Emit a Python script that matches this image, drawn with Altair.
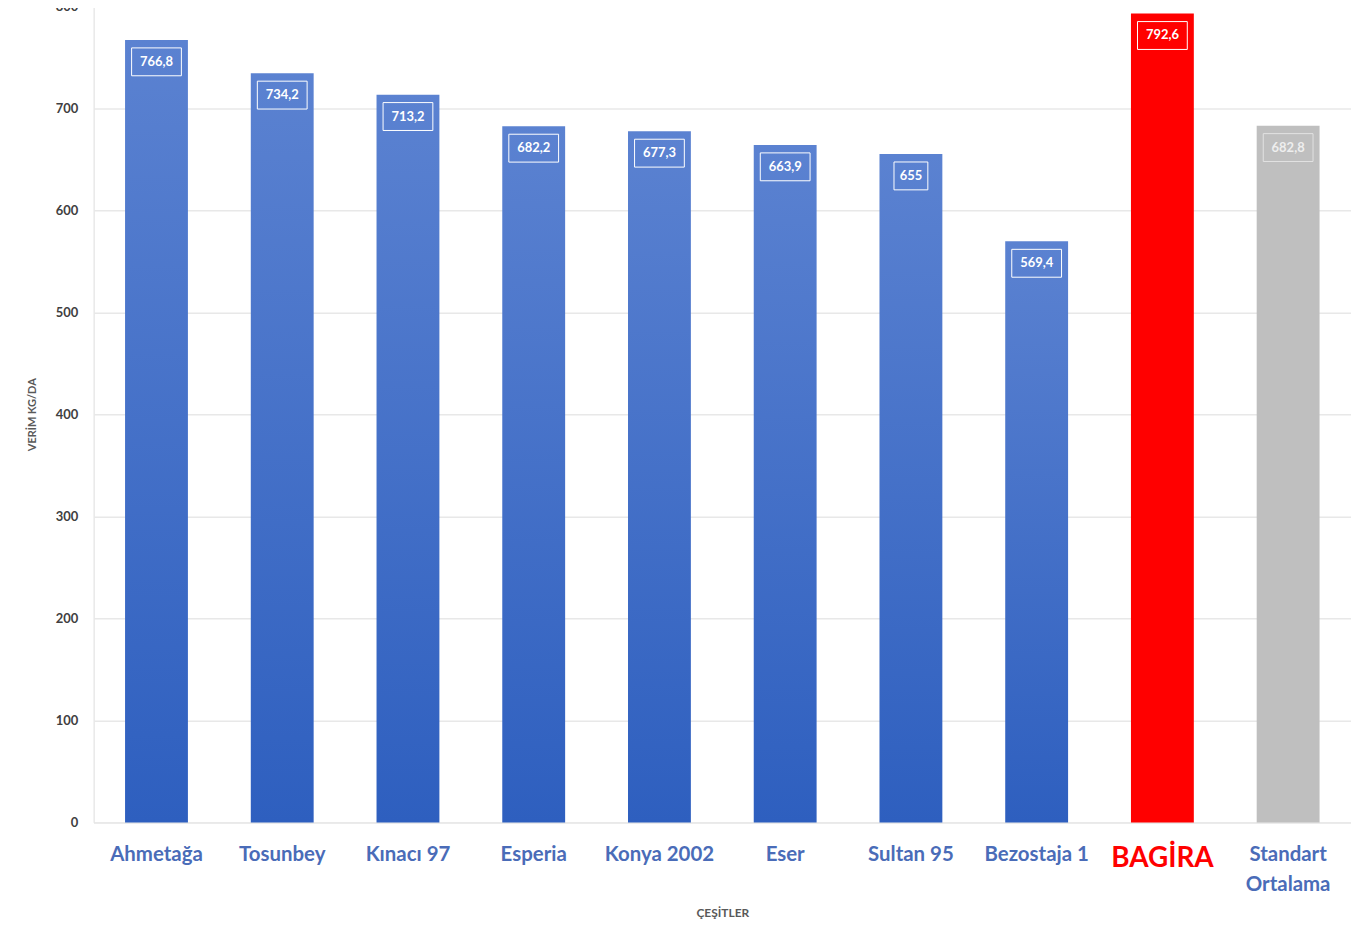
import altair as alt
import pandas as pd

categories = ["Ahmetağa", "Tosunbey", "Kınacı 97", "Esperia", "Konya 2002",
              "Eser", "Sultan 95", "Bezostaja 1", "BAGİRA", "Standart Ortalama"]
values = [766.8, 734.2, 713.2, 682.2, 677.3, 663.9, 655, 569.4, 792.6, 682.8]
value_labels = ["766,8", "734,2", "713,2", "682,2", "677,3", "663,9", "655",
                "569,4", "792,6", "682,8"]
groups = ["cesit"] * 8 + ["bagira", "standart"]

df = pd.DataFrame({"cat": categories, "val": values, "lab": value_labels, "grp": groups})

xenc = alt.X(
    "cat:N",
    sort=None,
    scale=alt.Scale(domain=categories, paddingInner=0.5, paddingOuter=0.25, round=False),
    axis=alt.Axis(
        title="ÇEŞİTLER",
        titleFont="Lato", titleFontSize=12, titleFontWeight="bold", titleColor="#595959",
        titleY=91, titleBaseline="middle",
        labelAngle=0, labelFont="Lato", labelFontWeight="bold",
        labelFontSize=alt.ExprRef("datum.value == 'BAGİRA' ? 28 : 20.5"),
        labelColor=alt.ExprRef("datum.value == 'BAGİRA' ? '#ff0000' : '#4a6cb8'"),
        labelExpr="datum.value == 'Standart Ortalama' ? ['Standart', 'Ortalama'] : datum.value",
        labelLineHeight=30, labelBaseline="top", labelPadding=22,
        ticks=False, domain=False, grid=False,
    ),
)
yenc = alt.Y(
    "val:Q",
    scale=alt.Scale(domain=[0, 800]),
    axis=alt.Axis(
        title="VERİM KG/DA",
        titleFont="Lato", titleFontSize=11, titleFontWeight="bold", titleColor="#595959",
        titleX=-61, titleY=410, titleAngle=-90, titleAlign="center", titleBaseline="middle",
        values=[0, 100, 200, 300, 400, 500, 600, 700, 800],
        labelFont="Lato", labelFontSize=13, labelFontWeight="bold", labelColor="#404040",
        labelPadding=16, ticks=False, domain=False,
        grid=True, gridColor="#e8e8e8", gridWidth=1.5,
    ),
)

base = alt.Chart(df).encode(x=xenc, y=yenc)

blue_grad = alt.Gradient(
    gradient="linear",
    stops=[alt.GradientStop(color="#5b82d1", offset=0),
           alt.GradientStop(color="#2e5fbf", offset=1)],
    x1=0, x2=0, y1=0, y2=1,
)

bars_blue = base.transform_filter("datum.grp == 'cesit'").mark_bar(color=blue_grad)
bars_red = base.transform_filter("datum.grp == 'bagira'").mark_bar(color="#ff0000")
bars_gray = base.transform_filter("datum.grp == 'standart'").mark_bar(color="#bfbfbf")

box_enc = dict(y2="val:Q")
boxes_wide = base.transform_filter(
    "length(datum.lab) > 3 && datum.grp != 'standart'"
).mark_bar(width=50, fillOpacity=0, stroke="white", strokeWidth=1, yOffset=8, y2Offset=36).encode(**box_enc)
boxes_narrow = base.transform_filter("length(datum.lab) <= 3").mark_bar(
    width=34, fillOpacity=0, stroke="white", strokeWidth=1, yOffset=8, y2Offset=36
).encode(**box_enc)
boxes_gray = base.transform_filter("datum.grp == 'standart'").mark_bar(
    width=50, fillOpacity=0, stroke="#e2e2e2", strokeWidth=1, yOffset=8, y2Offset=36
).encode(**box_enc)

texts = base.transform_filter("datum.grp != 'standart'").mark_text(
    font="Lato", fontSize=13, fontWeight="bold", color="white", dy=22, baseline="middle"
).encode(text="lab:N")
texts_gray = base.transform_filter("datum.grp == 'standart'").mark_text(
    font="Lato", fontSize=13, fontWeight="bold", color="#eeeeee", dy=22, baseline="middle"
).encode(text="lab:N")

chart = alt.layer(
    bars_blue, bars_red, bars_gray, boxes_wide, boxes_narrow, boxes_gray, texts, texts_gray
).properties(
    width=1263,
    height=820,
    autosize=alt.AutoSizeParams(type="none"),
    padding={"left": 86, "top": -4, "right": 0, "bottom": 100},
).configure_view(stroke=None).configure(background="white")

chart.save("out.html", embed_options={"renderer": "svg", "actions": False})
